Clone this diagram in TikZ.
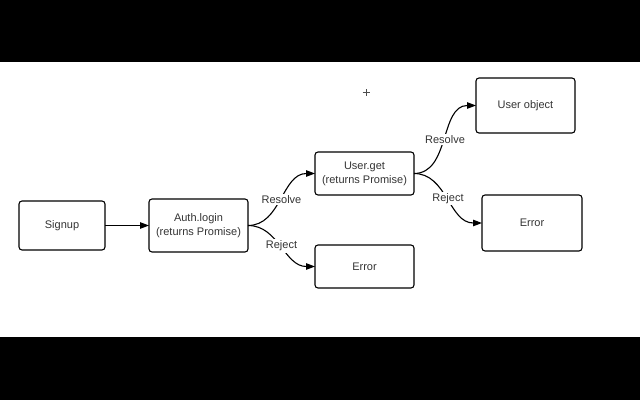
\documentclass[tikz,border=0pt]{standalone}
\usepackage{fontspec}
\setmainfont{Liberation Sans}
\usetikzlibrary{positioning, arrows.meta}

\begin{document}
\begin{tikzpicture}[
    x=1pt, y=1pt,
    box/.style={
        rectangle,
        draw,
        rounded corners=3pt,
        line width=1.1pt,
        minimum width=99pt,
        minimum height=43pt,
        inner sep=2pt,
        outer sep=0pt,
        align=center,
        text=black!80,
        font=\fontsize{11}{14}\selectfont
    },
    arrow/.style={
        -{Triangle[length=9pt,width=6.5pt]},
        line width=1.1pt
    },
    branch/.style={
        arrow,
        out=0,
        in=180
    },
    outcome/.style={
        fill=white,
        inner sep=1.5pt,
        text=black!80,
        font=\fontsize{11}{14}\selectfont
    }
]

% ===== frame =====
\useasboundingbox (0,0) rectangle (640,400);
\fill[black] (0,0) rectangle (640,63);
\fill[black] (0,338) rectangle (640,400);

% ===== boxes =====
\node[box, minimum width=86pt, minimum height=49pt] (signup) at (62,174.5) {Signup};
\node[box, minimum height=53pt, right=44pt of signup] (login) {Auth.login\\(returns Promise)};
\node[box, right=67pt of login, yshift=52pt] (userget) {User.get\\(returns Promise)};
\node[box, right=67pt of login, yshift=-41pt] (error1) {Error};
\node[box, minimum height=55pt, right=62pt of userget, yshift=68pt] (userobj) {User object};
\node[box, minimum width=100pt, minimum height=56pt, right=68pt of userget, yshift=-49.5pt] (error2) {Error};

% ===== connectors =====
\draw[arrow] (signup) -- (login);
\draw[branch] (login.east) to node[outcome] {Resolve} (userget.west);
\draw[branch] (login.east) to node[outcome] {Reject} (error1.west);
\draw[branch] (userget.east) to node[outcome] {Resolve} (userobj.west);
\draw[branch] (userget.east) to node[outcome] {Reject} (error2.west);

% ===== cursor mark =====
\draw[line width=0.5pt, black!70] (362.5,308) -- (369.5,308) (366,304.5) -- (366,311.5);

\end{tikzpicture}
\end{document}
